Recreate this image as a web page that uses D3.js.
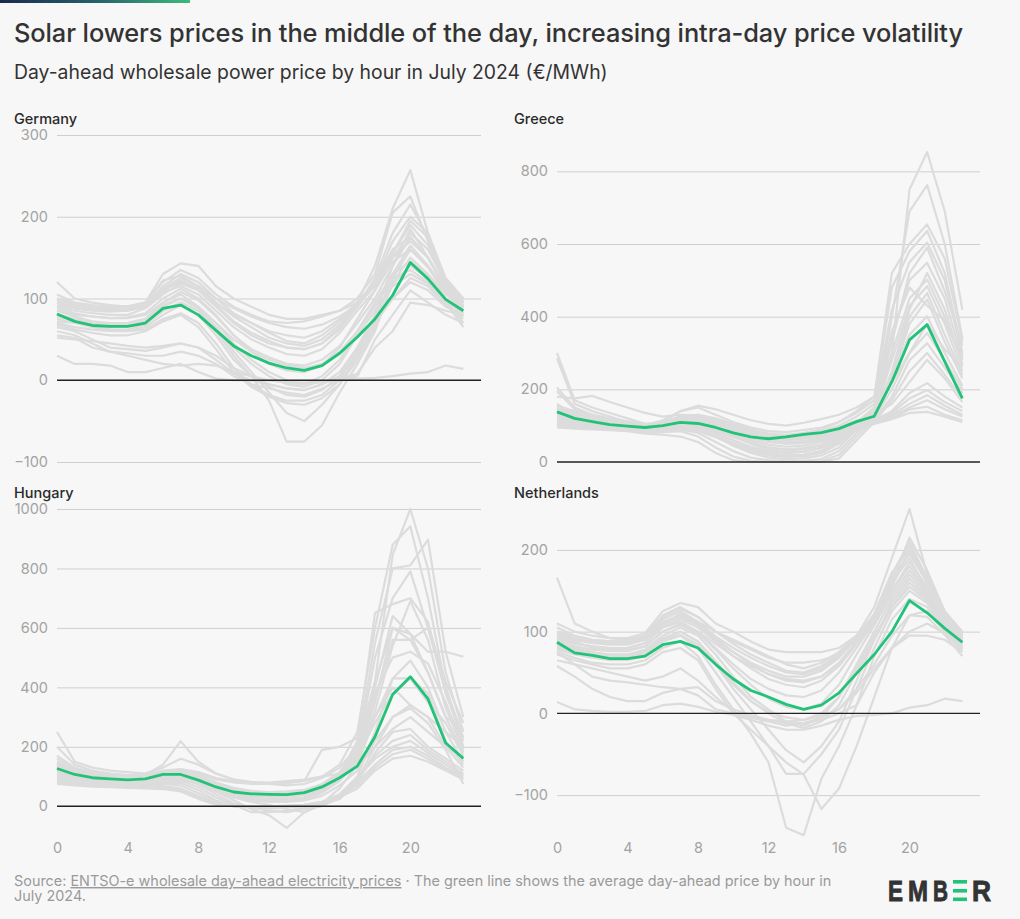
<!DOCTYPE html>
<html>
<head>
<meta charset="utf-8">
<script src="https://cdn.jsdelivr.net/npm/d3@7"></script>
<style>
  html, body { margin: 0; padding: 0; background: #f7f7f7; }
  svg { display: block; }
</style>
</head>
<body>
<svg id="chart" width="1020" height="919"></svg>
<script>
// ---------------- DATA ----------------
const hours = d3.range(24);
const xTicks = [0, 4, 8, 12, 16, 20];

const germanyTicks = [-100, 0, 100, 200, 300];
const greeceTicks = [0, 200, 400, 600, 800];
const hungaryTicks = [0, 200, 400, 600, 800, 1000];
const netherlandsTicks = [-100, 0, 100, 200];

const germanyAvg = [81,72,67,66,66,70,88,92,80,61,42,30,21,15,12,18,33,53,75,104,144,124,99,85];
const greeceAvg = [138,120,111,103,99,95,100,109,106,95,80,69,64,69,76,81,92,111,126,221,336,378,276,175];
const hungaryAvg = [127,107,96,92,89,92,107,107,88,65,48,42,40,39,46,65,96,135,234,376,436,361,213,161];
const netherlandsAvg = [87,74,71,67,67,70,84,88,80,60,42,28,20,11,5,10,25,49,72,100,138,123,104,87];

const germanyDays = [
  [95,88,85,84,85,90,110,120,112,95,80,70,60,55,52,60,75,95,120,160,175,150,115,95],
  [100,92,88,86,87,92,115,130,120,100,82,70,58,48,45,55,72,92,115,150,180,160,118,98],
  [90,85,82,80,80,88,105,118,110,90,70,55,45,40,38,45,65,95,140,210,257,180,120,100],
  [105,95,90,88,90,95,120,135,125,105,90,80,72,70,72,78,85,100,130,205,225,170,115,95],
  [75,70,65,62,62,68,85,95,85,60,30,5,-25,-75,-75,-55,-15,20,60,120,150,130,105,90],
  [80,75,70,68,68,72,90,100,88,65,35,10,-15,-40,-50,-30,-5,30,70,130,165,140,110,92],
  [70,65,62,60,60,65,80,92,80,55,25,5,-8,-18,-20,-12,5,40,80,140,185,150,112,88],
  [85,80,78,76,77,82,100,112,100,80,55,35,20,12,10,18,40,75,110,155,190,165,120,95],
  [30,20,20,18,10,10,15,20,10,2,0,0,0,-2,-3,-2,0,2,3,5,8,10,18,14],
  [55,52,40,35,33,30,30,35,30,20,5,-5,-10,-15,-18,-10,0,5,50,80,110,95,80,70],
  [65,60,50,40,38,36,40,45,40,25,8,0,-5,-10,-12,-5,5,30,70,100,120,110,90,80],
  [120,100,95,92,90,95,130,143,140,115,100,90,80,75,75,80,85,95,120,170,200,180,125,100],
  [100,95,92,90,90,95,122,128,115,95,78,65,52,45,42,50,68,90,118,150,170,150,112,92],
  [92,88,86,85,85,90,108,115,105,85,65,50,40,32,30,38,58,85,110,145,160,140,108,88],
  [88,82,78,76,76,80,95,105,90,70,45,25,10,0,-5,5,25,60,95,130,145,128,100,82],
  [60,55,45,35,30,25,20,18,20,18,10,5,0,-3,-5,-2,2,8,40,60,95,92,85,80],
  [80,75,70,68,70,75,92,100,90,70,50,35,25,18,15,20,35,60,90,125,135,120,98,70],
  [72,70,68,65,66,70,85,95,85,65,40,20,5,-5,-8,0,20,55,85,115,130,118,95,65],
  [98,92,88,86,86,92,112,125,115,100,88,78,70,65,63,68,78,92,118,155,195,175,122,98],
  [85,78,72,70,70,75,95,108,98,78,55,38,28,20,18,25,42,70,100,140,175,150,110,90],
  [52,50,48,45,42,40,42,45,40,30,15,5,-5,-10,-12,-5,10,40,75,100,125,115,92,75],
  [95,90,87,85,86,92,110,122,112,92,72,58,48,40,38,45,62,90,125,180,215,175,118,95],
  [78,72,66,62,60,62,75,82,70,45,15,-5,-18,-25,-25,-18,0,35,75,125,160,138,106,84],
  [68,62,58,55,55,60,72,80,65,38,10,-8,-20,-28,-30,-22,-5,25,65,118,140,125,100,78]
];

const greeceDays = [
  [300,170,150,135,120,105,100,115,120,110,95,80,70,65,68,75,85,100,120,300,750,853,690,419],
  [285,160,140,125,110,100,105,120,125,115,100,85,75,70,72,80,95,110,130,400,690,762,600,340],
  [180,175,182,165,150,135,125,130,128,115,98,85,78,75,80,90,110,140,180,520,600,654,560,330],
  [150,135,125,115,108,100,110,140,150,130,110,95,85,82,88,95,110,135,170,480,580,636,520,300],
  [140,125,115,108,102,95,108,125,130,120,105,90,78,72,75,85,100,125,160,420,550,604,500,290],
  [130,118,110,102,98,92,100,112,115,105,90,75,65,60,64,70,85,108,140,350,500,548,450,280],
  [120,110,102,98,95,90,95,105,100,90,70,50,35,25,28,40,65,100,150,300,450,502,400,270],
  [125,112,105,100,96,92,100,110,108,95,80,65,55,50,52,60,75,100,125,250,420,520,420,265],
  [135,120,112,105,100,95,102,115,118,105,88,70,58,52,55,65,82,105,130,280,430,484,380,250],
  [115,105,100,96,92,88,92,100,95,80,60,40,25,18,20,30,55,95,140,240,400,465,350,240],
  [110,102,98,95,90,85,90,98,90,70,45,25,12,8,10,18,40,90,130,230,380,447,330,230],
  [145,130,120,110,105,98,105,115,110,95,75,55,40,32,35,45,65,100,135,230,350,401,300,210],
  [105,98,95,92,88,82,85,90,80,55,30,12,5,2,3,8,30,80,120,200,300,355,280,200],
  [100,96,94,90,86,80,82,85,70,40,15,3,0,0,0,2,20,70,115,180,280,327,260,190],
  [95,92,90,88,85,78,75,70,55,25,5,0,0,0,0,0,10,60,110,170,250,300,240,175],
  [155,140,130,120,112,105,110,125,130,118,100,85,75,72,75,82,95,115,130,160,220,281,230,165],
  [128,115,108,102,98,92,98,110,112,100,85,70,60,55,58,65,80,100,115,140,190,217,180,150],
  [118,108,102,98,94,88,93,105,105,92,76,60,48,42,45,55,72,98,115,135,175,198,165,140],
  [112,105,100,96,92,86,90,100,98,85,68,52,40,35,38,48,68,95,112,130,160,184,155,130],
  [108,102,98,94,90,84,88,95,92,78,60,42,30,26,28,38,60,92,110,125,150,170,145,125],
  [102,98,95,92,88,82,85,92,88,72,52,35,22,18,20,30,55,90,108,120,145,152,130,115],
  [98,95,92,90,86,80,84,90,85,68,48,30,18,14,16,25,50,88,105,118,135,138,125,110],
  [160,130,115,108,104,100,115,140,155,145,130,115,105,100,108,118,130,150,180,220,300,380,310,260],
  [205,150,130,118,110,102,108,122,126,112,95,80,70,66,70,78,92,112,140,330,520,590,470,320],
  [195,145,125,112,105,98,104,118,122,110,92,78,68,62,66,74,90,110,150,360,480,430,390,285]
];

const hungaryDays = [
  [250,150,130,120,115,110,130,160,140,110,90,80,75,70,75,95,130,200,420,846,1000,800,450,250],
  [200,140,120,110,105,105,140,219,150,110,90,82,78,80,85,100,140,250,600,880,942,700,400,230],
  [150,120,105,98,95,95,115,120,105,80,60,50,45,45,50,70,110,200,550,800,810,897,520,300],
  [140,115,100,95,92,92,110,112,95,70,50,40,38,38,42,60,100,180,500,700,790,600,380,220],
  [130,110,98,92,90,90,108,110,92,68,50,42,40,40,45,65,105,220,650,680,700,620,400,200],
  [125,108,95,90,88,88,105,108,90,65,45,35,32,32,38,55,95,160,400,640,580,520,520,503],
  [120,105,95,90,88,88,105,105,88,60,40,30,25,25,30,50,90,150,350,600,560,450,300,180],
  [135,112,100,95,92,92,112,115,100,75,55,45,42,42,48,70,110,190,380,500,520,480,350,200],
  [115,100,90,86,84,84,98,100,85,55,30,15,5,-10,-20,10,60,140,300,430,490,400,250,150],
  [110,95,85,82,80,80,92,95,80,50,20,-10,-30,-73,-20,5,40,100,250,430,430,380,220,140],
  [105,92,85,80,78,78,90,92,75,40,10,-5,-15,-20,-10,0,30,90,200,300,340,300,200,130],
  [100,90,82,78,76,76,85,85,65,30,5,-20,-20,-15,-5,5,25,80,180,250,260,200,160,120],
  [95,88,80,76,74,74,80,78,55,20,0,-5,-8,-5,0,10,30,90,170,220,240,190,150,110],
  [90,85,78,74,72,72,75,70,45,15,0,0,0,2,5,15,40,95,160,200,220,180,140,105],
  [85,80,75,72,70,68,68,60,35,10,0,0,0,0,0,10,30,80,140,190,200,170,130,100],
  [80,75,70,68,66,64,62,55,30,8,0,0,0,0,5,15,35,70,130,175,190,160,125,95],
  [75,70,66,64,62,60,58,50,25,5,0,0,0,0,3,12,30,60,120,160,170,150,120,90],
  [170,130,115,108,105,105,120,125,115,95,85,80,80,85,90,100,110,130,200,260,300,250,200,160],
  [160,125,110,105,102,102,118,120,110,90,80,75,75,78,85,190,200,230,300,400,340,300,250,200],
  [110,98,90,86,85,86,100,104,92,72,55,45,42,42,48,70,110,170,280,380,430,350,280,170],
  [90,85,80,78,76,76,85,90,75,50,30,20,15,15,20,35,70,120,220,300,330,280,190,75],
  [145,118,104,98,95,95,112,118,102,80,62,52,48,50,55,75,115,200,420,600,580,450,300,260],
  [118,102,94,90,88,88,102,106,90,62,38,25,18,18,24,45,85,150,320,540,690,560,330,190],
  [128,110,98,94,91,91,108,110,94,70,48,38,34,34,40,60,100,170,360,560,560,600,420,280]
];

const netherlandsDays = [
  [166,110,100,92,90,95,115,125,112,100,90,80,70,60,55,62,75,95,130,190,250,170,120,95],
  [110,100,95,92,92,98,125,135,130,110,100,88,78,75,75,75,80,95,120,160,215,175,125,100],
  [100,95,90,88,88,95,120,130,118,100,85,72,62,52,50,58,72,92,120,170,210,165,120,95],
  [95,90,88,85,86,92,112,120,110,92,75,60,48,40,38,45,62,88,118,155,200,160,118,92],
  [90,85,82,80,80,86,105,112,100,80,60,42,30,22,20,28,50,80,112,150,180,150,112,88],
  [85,80,75,72,72,78,95,105,95,72,45,20,5,-10,-15,-5,20,60,100,140,170,145,108,85],
  [80,75,70,68,68,72,90,100,88,60,30,5,-20,-45,-60,-40,-10,40,90,130,160,140,105,82],
  [78,72,68,65,65,70,88,95,80,50,20,-10,-40,-74,-74,-50,-20,30,80,125,150,135,102,80],
  [75,68,62,60,60,65,80,88,70,35,5,-25,-60,-140,-149,-80,-40,10,70,115,140,130,100,78],
  [72,65,60,55,55,60,75,80,65,30,0,-20,-40,-60,-75,-117,-92,-40,20,80,120,125,100,75],
  [58,45,30,20,15,15,25,30,22,5,0,-5,-10,-15,-12,-5,5,30,60,95,120,118,96,70],
  [14,5,3,2,2,3,10,12,8,2,-2,-8,-15,-20,-20,-15,-8,-3,-2,0,7,10,18,15],
  [75,60,45,40,38,35,32,30,32,15,5,-2,-8,-12,-12,-8,0,10,50,80,95,95,90,75],
  [95,88,80,78,78,82,100,110,100,85,70,58,48,42,40,45,60,85,115,160,190,150,115,90],
  [105,95,90,88,88,94,118,128,118,100,88,78,68,62,62,65,72,90,118,170,205,165,122,98],
  [88,82,78,76,76,82,100,108,98,78,55,35,18,8,5,12,35,72,108,145,175,148,110,86],
  [82,76,72,70,70,74,90,96,84,60,35,15,2,-5,-8,0,20,55,95,130,155,138,105,80],
  [92,86,82,80,80,86,105,115,105,88,70,55,42,35,32,40,58,85,115,150,185,155,116,90],
  [65,60,55,50,45,40,45,55,40,20,2,-5,-8,-10,-8,-3,5,25,55,80,100,110,98,80],
  [100,92,88,86,86,90,108,118,108,90,75,62,52,45,45,52,68,92,120,165,195,160,118,94],
  [84,78,74,72,72,76,92,100,88,64,38,15,0,-12,-18,-10,10,50,90,135,165,142,106,84],
  [98,90,86,84,84,90,110,122,112,94,80,68,58,50,48,55,70,92,122,172,200,162,120,96]
];

// ---------------- LAYOUT ----------------
const svg = d3.select("#chart");
const W = 1020, H = 919;
const FONT = "Inter, 'Noto Sans', 'DejaVu Sans', sans-serif";
const GREEN = "#22c278";
const GREY_LINE = "#dcdcdc";

svg.append("rect").attr("width", W).attr("height", H).attr("fill", "#f7f7f7");

// top gradient bar
const defs = svg.append("defs");
const grad = defs.append("linearGradient").attr("id", "topbar").attr("x1", "0%").attr("x2", "100%");
grad.append("stop").attr("offset", "0%").attr("stop-color", "#1b2a4e");
grad.append("stop").attr("offset", "50%").attr("stop-color", "#25606a");
grad.append("stop").attr("offset", "100%").attr("stop-color", "#3dbb78");
svg.append("rect").attr("x", 0).attr("y", 0).attr("width", 190).attr("height", 3).attr("fill", "url(#topbar)");

function fitText(sel, target) {
  const node = sel.node();
  const w = node.getComputedTextLength();
  const fs = parseFloat(sel.attr("font-size"));
  if (w > 0) sel.attr("font-size", (fs * target / w).toFixed(2));
}

const title = svg.append("text")
  .attr("x", 14).attr("y", 42)
  .attr("font-family", FONT).attr("font-size", 25).attr("font-weight", 500)
  .attr("fill", "#333").attr("letter-spacing", -0.1)
  .text("Solar lowers prices in the middle of the day, increasing intra-day price volatility");
fitText(title, 949);

const subtitle = svg.append("text")
  .attr("x", 14).attr("y", 79)
  .attr("font-family", FONT).attr("font-size", 19).attr("font-weight", 400)
  .attr("fill", "#333")
  .text("Day-ahead wholesale power price by hour in July 2024 (€/MWh)");
fitText(subtitle, 594);

const panels = [
  { name: "Germany", days: germanyDays, avg: germanyAvg, ticks: germanyTicks, domain: [-100, 300],
    x0: 57, x1: 481, yTop: 135, yBot: 462, titleY: 124, xAxis: false },
  { name: "Greece", days: greeceDays, avg: greeceAvg, ticks: greeceTicks, domain: [0, 900],
    x0: 557, x1: 980, yTop: 135, yBot: 462, titleY: 124, xAxis: false },
  { name: "Hungary", days: hungaryDays, avg: hungaryAvg, ticks: hungaryTicks, domain: [-100, 1000],
    x0: 57, x1: 481, yTop: 509, yBot: 836, titleY: 498, xAxis: true },
  { name: "Netherlands", days: netherlandsDays, avg: netherlandsAvg, ticks: netherlandsTicks, domain: [-150, 250],
    x0: 557, x1: 980, yTop: 509, yBot: 836, titleY: 498, xAxis: true }
];

panels.forEach(p => {
  const g = svg.append("g");
  const x = d3.scaleLinear().domain([0, 24]).range([p.x0, p.x1]);
  const y = d3.scaleLinear().domain(p.domain).range([p.yBot, p.yTop]);

  // panel title
  g.append("text")
    .attr("x", p.x0 - 43).attr("y", p.titleY)
    .attr("font-family", FONT).attr("font-size", 14.5).attr("font-weight", 500)
    .attr("fill", "#2a2a2a")
    .text(p.name);

  // y axis with gridlines
  const yAxis = d3.axisLeft(y).tickValues(p.ticks).tickSize(-(p.x1 - p.x0)).tickPadding(8)
    .tickFormat(d => d < 0 ? "\u2212" + Math.abs(d) : String(d));
  const ya = g.append("g").attr("transform", `translate(${p.x0},0)`).call(yAxis);
  ya.select(".domain").remove();
  ya.selectAll(".tick line").attr("stroke", d => d === 0 ? "none" : "#cfcfcf").attr("stroke-width", 1);
  ya.selectAll(".tick text").attr("font-family", FONT).attr("font-size", 14.5)
    .attr("fill", "#a3a3a3").attr("x", -9);

  // x axis (bottom row only)
  if (p.xAxis) {
    const xAxis = d3.axisBottom(x).tickValues(xTicks).tickSize(0).tickPadding(0);
    const xa = g.append("g").attr("transform", `translate(0,${p.yBot})`).call(xAxis);
    xa.select(".domain").remove();
    xa.selectAll(".tick text").attr("font-family", FONT).attr("font-size", 14.5)
      .attr("fill", "#a3a3a3").attr("dy", 0).attr("y", 17);
  }

  const line = d3.line().x((d, i) => x(hours[i])).y(d => y(d));

  g.append("g").selectAll("path.day").data(p.days).join("path")
    .attr("class", "day")
    .attr("d", line)
    .attr("fill", "none").attr("stroke", GREY_LINE).attr("stroke-width", 2.2)
    .attr("stroke-linejoin", "round");

  // zero baseline drawn above grey day lines
  g.append("line")
    .attr("x1", p.x0).attr("x2", p.x1)
    .attr("y1", y(0)).attr("y2", y(0))
    .attr("stroke", "#222").attr("stroke-width", 1.3);

  g.append("path")
    .attr("d", line(p.avg))
    .attr("fill", "none").attr("stroke", GREEN).attr("stroke-width", 2.8)
    .attr("stroke-linejoin", "round");
});

// footer
const footer = svg.append("text")
  .attr("font-family", FONT).attr("font-size", 13).attr("fill", "#9a9a9a");
const l1 = footer.append("tspan").attr("x", 14).attr("y", 886);
l1.append("tspan").text("Source: ");
l1.append("tspan").attr("text-decoration", "underline").text("ENTSO-e wholesale day-ahead electricity prices");
l1.append("tspan").text(" \u00b7 The green line shows the average day-ahead price by hour in");
footer.append("tspan").attr("x", 14).attr("y", 901).text("July 2024.");
// fit first line to width
(function () {
  const w = l1.node().getComputedTextLength();
  if (w > 0) footer.attr("font-size", (13 * 818 / w).toFixed(2));
})();

// EMBER logo
const logo = svg.append("g");
const LOGO_FONT = "'Liberation Sans', Arial, sans-serif";
const logoLetters = [
  { ch: "E", x: 888, w: 15 },
  { ch: "M", x: 908, w: 20 },
  { ch: "B", x: 933, w: 15 },
  { ch: "R", x: 972, w: 19 }
];
logo.selectAll("text").data(logoLetters).join("text")
  .attr("x", d => d.x).attr("y", 901)
  .attr("font-family", LOGO_FONT).attr("font-weight", 700)
  .attr("font-size", 29).attr("fill", "#333")
  .attr("stroke", "#333").attr("stroke-width", 0.9)
  .attr("textLength", d => d.w).attr("lengthAdjust", "spacingAndGlyphs")
  .text(d => d.ch);
[880, 889, 897.5].forEach(yy => {
  logo.append("rect").attr("x", 953).attr("y", yy).attr("width", 14).attr("height", 3.6).attr("fill", GREEN);
});
</script>
</body>
</html>
